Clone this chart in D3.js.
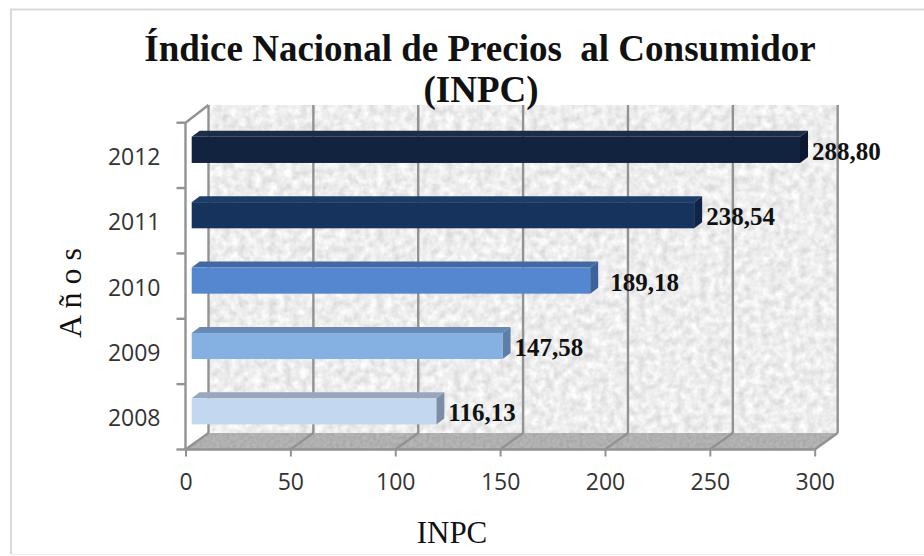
<!DOCTYPE html>
<html>
<head>
<meta charset="utf-8">
<script src="https://cdn.jsdelivr.net/npm/d3@7"></script>
<style>
  html, body { margin: 0; padding: 0; background: #fff; }
  svg { display: block; }
  .serif { font-family: "Liberation Serif", serif; fill: #111; }
  .axis text { font-family: "Open Sans", sans-serif; font-size: 23px; fill: #333; }
  .axis path { display: none; }
  .axis line { stroke: #929292; stroke-width: 2; }
</style>
</head>
<body>
<div id="chart"></div>
<script>
const years = ['2008', '2009', '2010', '2011', '2012'];
const values = [116.13, 147.58, 189.18, 238.54, 288.80];
const labels = ['116,13', '147,58', '189,18', '238,54', '288,80'];
const frontColors = ['#c3d7f0', '#84b0e2', '#5487d0', '#16335e', '#12233f'];
const topColors = ['#98a8bc', '#678ab4', '#4269a3', '#1d3d68', '#1c2d48'];
const sideColors = ['#7b8ea6', '#5c7fa9', '#3d6299', '#0f2545', '#0b1830'];
const xTicks = [0, 50, 100, 150, 200, 250, 300];

const width = 924;
const height = 556;

const svg = d3.select('#chart').append('svg').attr('width', width).attr('height', height);

// chart frame, only top and left edges survive in the picture
svg.append('path')
    .attr('d', `M11,${height - 2}V9.5H${width}`)
    .attr('fill', 'none')
    .attr('stroke', '#d9d9d9')
    .attr('stroke-width', 2);
svg.append('line')
    .attr('x1', 11).attr('x2', width).attr('y1', 554.5).attr('y2', 554.5)
    .attr('stroke', '#eeeeee');

const defs = svg.append('defs');

function addNoise(id, freq, gain, base) {
    const f = defs.append('filter')
        .attr('id', id)
        .attr('color-interpolation-filters', 'sRGB')
        .attr('x', 0).attr('y', 0).attr('width', 1).attr('height', 1);
    f.append('feTurbulence')
        .attr('type', 'fractalNoise')
        .attr('baseFrequency', freq)
        .attr('numOctaves', 3)
        .attr('seed', 4);
    f.append('feColorMatrix')
        .attr('type', 'matrix')
        .attr('values', `${gain} 0 0 0 ${base} ${gain} 0 0 0 ${base} ${gain} 0 0 0 ${base} 0 0 0 0 1`);
    f.append('feGaussianBlur').attr('stdDeviation', 0.7);
}
addNoise('wallNoise', 0.13, 0.22, 0.82);
addNoise('floorNoise', 0.3, 0.12, 0.63);

// front plane of the 3D box
const x = d3.scaleLinear().domain([0, 300]).range([185.5, 814.7]);
const y = d3.scaleBand().domain(years).range([449.5, 122.7]).paddingInner(0.6).paddingOuter(0.3);
const yEdges = d3.scaleLinear().domain([0, years.length]).range([449.5, 122.7]);

// depth of the box and of the bars
const boxDx = 23;
const boxDy = -16.5;
const wallTop = 105;
const barShiftX = 6.2;
const barShiftY = -5.5;
const barDx = 8;
const barDy = -6;

const poly = (pts) => pts.map((p) => p.join(',')).join(' ');

// back wall
svg.append('rect')
    .attr('x', x(0) + boxDx).attr('y', wallTop)
    .attr('width', x(300) - x(0)).attr('height', y.range()[0] + boxDy - wallTop)
    .attr('filter', 'url(#wallNoise)');

// floor, noise rect cut to the parallelogram
defs.append('clipPath').attr('id', 'floorClip').append('polygon')
    .attr('points', poly([
        [x(0), y.range()[0]],
        [x(300), y.range()[0]],
        [x(300) + boxDx, y.range()[0] + boxDy],
        [x(0) + boxDx, y.range()[0] + boxDy]
    ]));
svg.append('g')
    .attr('clip-path', 'url(#floorClip)')
    .append('rect')
    .attr('x', x(0)).attr('y', y.range()[0] + boxDy)
    .attr('width', x(300) - x(0) + boxDx).attr('height', -boxDy)
    .attr('filter', 'url(#floorNoise)');

// grid on the wall and its continuation over the floor
const grid = svg.append('g').attr('fill', 'none').attr('stroke', '#929292').attr('stroke-width', 2.4);
grid.selectAll('.wall').data(xTicks).enter().append('line')
    .attr('class', 'wall')
    .attr('x1', (d) => x(d) + boxDx).attr('x2', (d) => x(d) + boxDx)
    .attr('y1', wallTop).attr('y2', y.range()[0] + boxDy);
grid.selectAll('.floor').data(xTicks).enter().append('line')
    .attr('class', 'floor')
    .attr('x1', (d) => x(d)).attr('x2', (d) => x(d) + boxDx)
    .attr('y1', y.range()[0]).attr('y2', y.range()[0] + boxDy);

// left side edges
grid.append('line')
    .attr('x1', x(0)).attr('x2', x(0) + boxDx)
    .attr('y1', y.range()[1]).attr('y2', wallTop);
grid.append('line')
    .attr('x1', x(0)).attr('x2', x(0))
    .attr('y1', y.range()[1]).attr('y2', y.range()[0]);
grid.append('line')
    .attr('x1', x(0)).attr('x2', x(300))
    .attr('y1', y.range()[0]).attr('y2', y.range()[0]);
grid.selectAll('.sep').data(d3.range(years.length + 1)).enter().append('line')
    .attr('class', 'sep')
    .attr('x1', x(0) - 9).attr('x2', x(0))
    .attr('y1', (d) => yEdges(d)).attr('y2', (d) => yEdges(d));

// axes
svg.append('g')
    .attr('class', 'axis')
    .attr('transform', `translate(0,${y.range()[0]})`)
    .call(d3.axisBottom(x).tickValues(xTicks).tickSize(7).tickPadding(17));

svg.append('g')
    .attr('class', 'axis')
    .attr('transform', `translate(${x(0)},0)`)
    .call(d3.axisLeft(y).tickSize(0).tickPadding(25))
    .selectAll('text')
    .attr('dy', '0.42em');

// bars
const rows = years.map((year, i) => ({
    year,
    value: values[i],
    label: labels[i],
    front: frontColors[i],
    top: topColors[i],
    side: sideColors[i]
}));

const bars = svg.selectAll('.bar').data(rows).enter().append('g').attr('class', 'bar');

const bx0 = () => x(0) + barShiftX;
const bx1 = (d) => x(d.value) + barShiftX + (d.value * 0.009);
const by0 = (d) => y(d.year) + barShiftY;
const by1 = (d) => y(d.year) + y.bandwidth() + barShiftY;

bars.append('polygon')
    .attr('fill', (d) => d.top)
    .attr('points', (d) => poly([
        [bx0(), by0(d)],
        [bx1(d), by0(d)],
        [bx1(d) + barDx, by0(d) + barDy],
        [bx0() + barDx, by0(d) + barDy]
    ]));

bars.append('polygon')
    .attr('fill', (d) => d.side)
    .attr('points', (d) => poly([
        [bx1(d), by0(d)],
        [bx1(d) + barDx, by0(d) + barDy],
        [bx1(d) + barDx, by1(d) + barDy],
        [bx1(d), by1(d)]
    ]));

bars.append('rect')
    .attr('fill', (d) => d.front)
    .attr('x', bx0())
    .attr('y', by0)
    .attr('width', (d) => bx1(d) - bx0())
    .attr('height', y.bandwidth());

bars.append('text')
    .attr('class', 'serif')
    .attr('x', (d) => bx1(d) + barDx + (d.year === '2010' ? 12 : 4))
    .attr('y', (d) => by1(d) - 3)
    .attr('font-size', 25)
    .attr('font-weight', 'bold')
    .text((d) => d.label);

// titles
svg.append('text')
    .attr('class', 'serif')
    .attr('x', 480).attr('y', 61)
    .attr('text-anchor', 'middle')
    .attr('font-size', 37)
    .attr('font-weight', 'bold')
    .style('white-space', 'pre')
    .text('Índice Nacional de Precios  al Consumidor');

svg.append('text')
    .attr('class', 'serif')
    .attr('x', 481).attr('y', 102)
    .attr('text-anchor', 'middle')
    .attr('font-size', 37)
    .attr('font-weight', 'bold')
    .text('(INPC)');

svg.append('text')
    .attr('class', 'serif')
    .attr('x', 452).attr('y', 543)
    .attr('text-anchor', 'middle')
    .attr('font-size', 31)
    .text('INPC');

svg.append('text')
    .attr('class', 'serif')
    .attr('transform', 'translate(81,293) rotate(-90)')
    .attr('text-anchor', 'middle')
    .attr('font-size', 32)
    .text('A ñ o s');
</script>
</body>
</html>
